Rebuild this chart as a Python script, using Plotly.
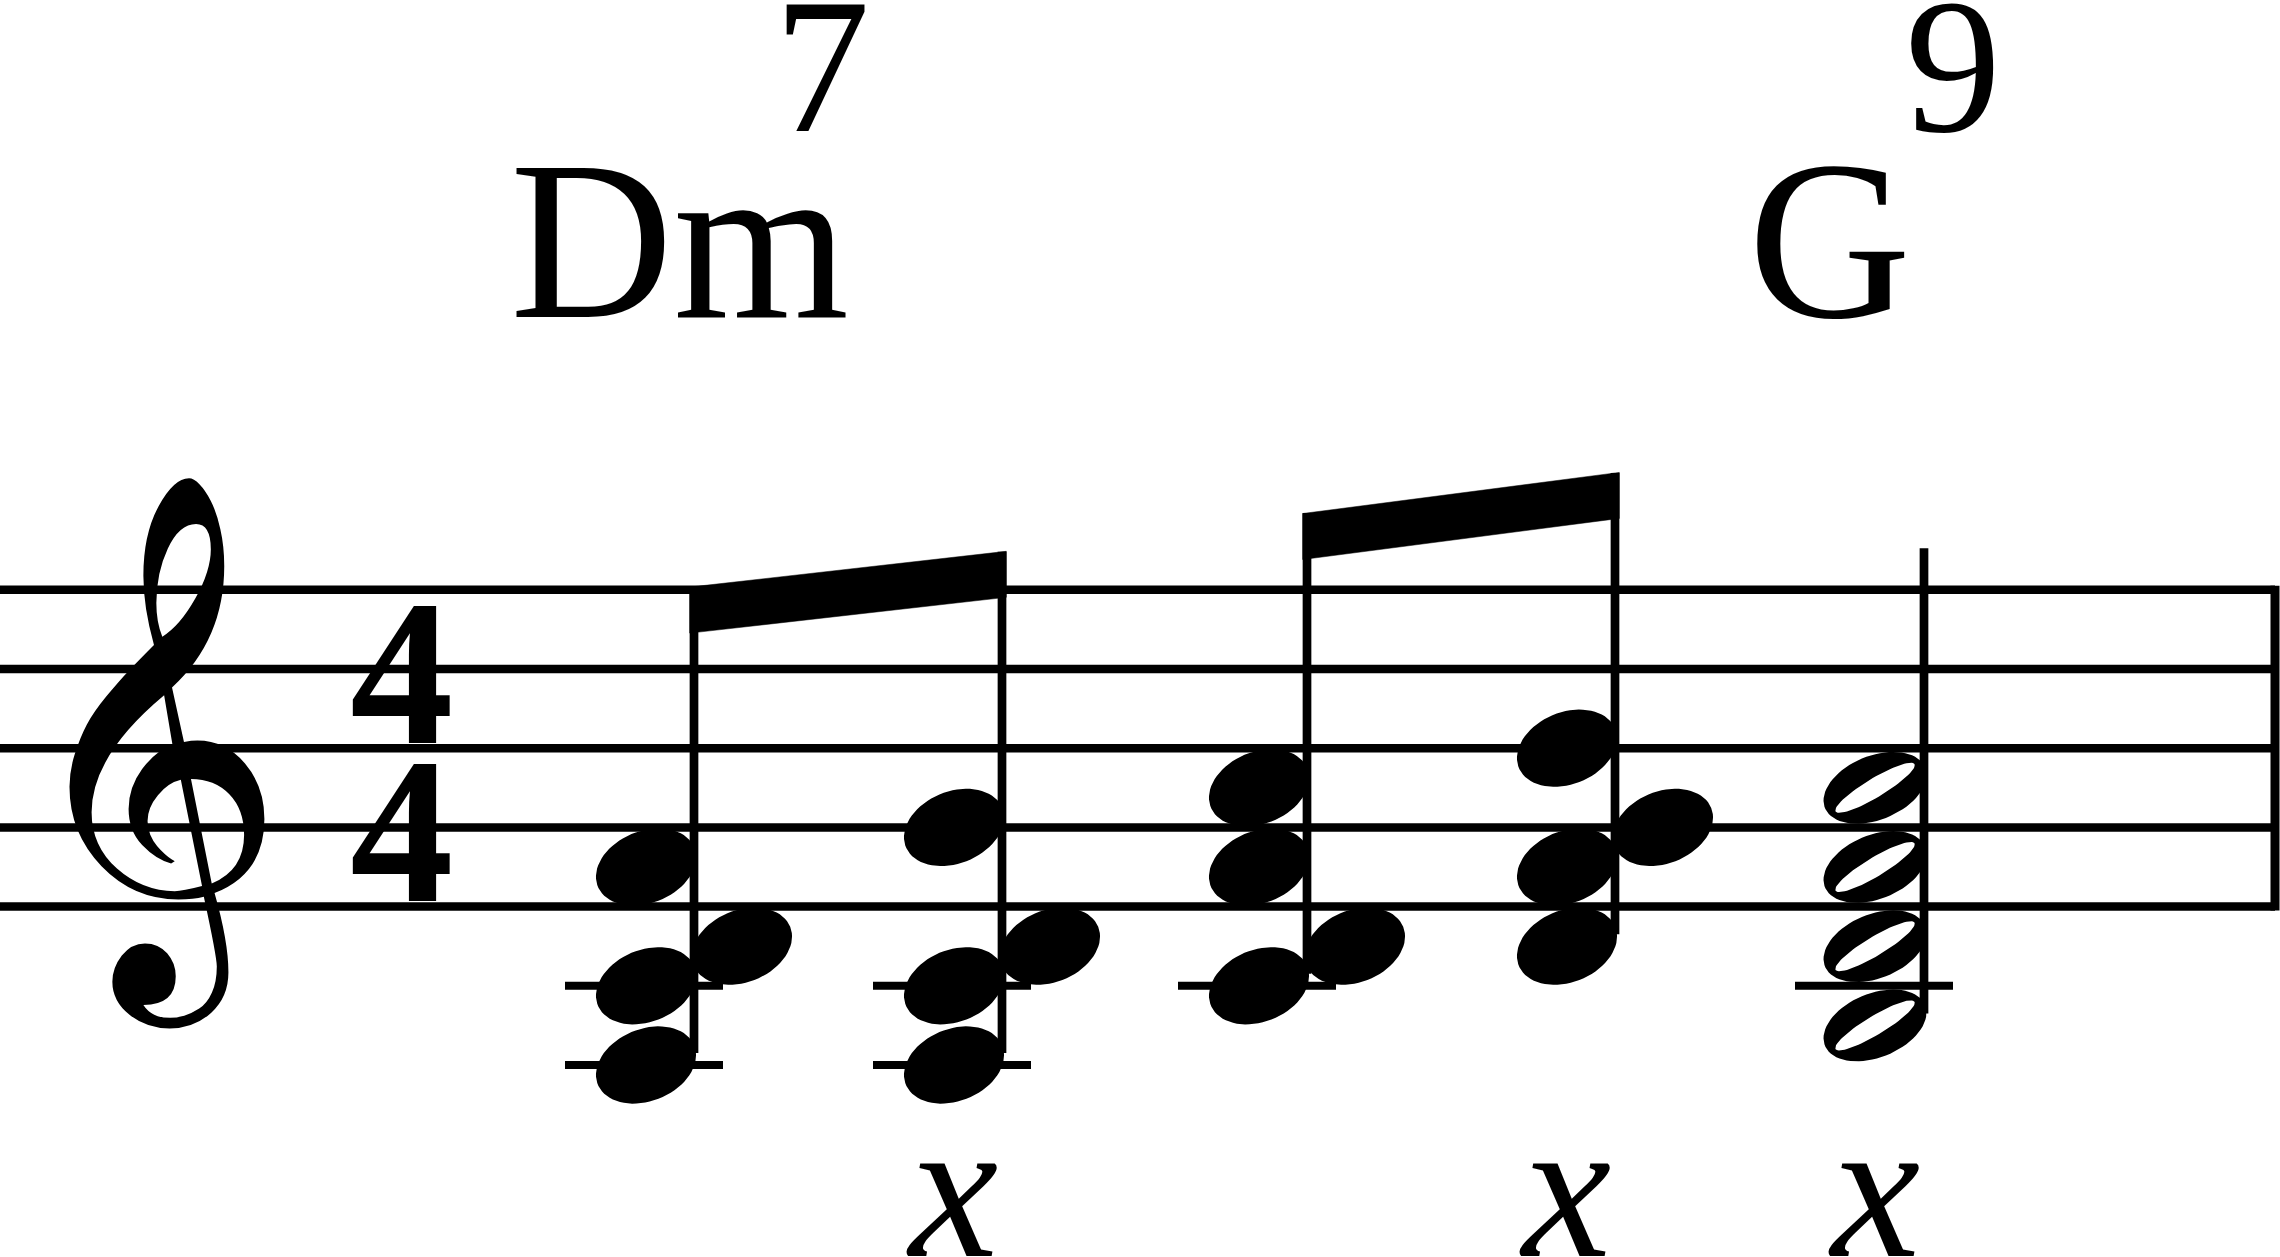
import numpy as np
import plotly.graph_objects as go

# page is 2280 x 1257 px, the axes map 1:1 onto it (y grows downward)
W, H = 2280, 1257
STAFF_BOTTOM = 906.6     # y of the lowest staff line (E4)
HALF_SPACE = 39.6        # one staff step
STAFF_END = 2275

# chords: staff steps above E4 (0 = bottom line, 8 = top line)
stem_x = [694, 1002, 1307, 1615, 1924]
chord_steps = [
    [-4, -2, -1, 1],    # A3 C4 D4 F4
    [-4, -2, -1, 2],    # A3 C4 D4 G4
    [-2, -1, 1, 3],     # C4 D4 F4 A4
    [-1, 1, 2, 4],      # D4 F4 G4 B4
    [-3, -1, 1, 3],     # B3 D4 F4 A4
]
durations = [8, 8, 8, 8, 2]
stem_tip = [8.08, 8.96, 9.94, 10.95, 9.05]
beam_groups = [(0, 1), (2, 3)]

chord_names = ["Dm", "G"]
chord_sups = ["7", "9"]
chord_at = [0, 4]
name_dx = [-186, -178]
sup_dx = [264, 157]

time_sig = ["4", "4"]
lyric = ["", "x", "", "x", "x"]


def sy(step):
    return STAFF_BOTTOM - step * HALF_SPACE


def ellipse(cx, cy, a, b, deg, n=72):
    t = np.linspace(0, 2 * np.pi, n)
    th = np.radians(deg)
    xs = cx + a * np.cos(t) * np.cos(th) - b * np.sin(t) * np.sin(th)
    ys = cy - (a * np.cos(t) * np.sin(th) + b * np.sin(t) * np.cos(th))
    return list(xs) + [None], list(ys) + [None]


def head_sides(steps):
    sides = []
    prev = None
    for s in sorted(steps):
        if prev is not None and s - prev[0] == 1 and prev[1] == "L":
            side = "R"
        else:
            side = "L"
        sides.append((s, side))
        prev = (s, side)
    return sides


fig = go.Figure()
black = "black"

# staff lines
lx, ly = [], []
for k in range(5):
    lx += [0, STAFF_END, None]
    ly += [sy(2 * k), sy(2 * k), None]
fig.add_trace(go.Scatter(x=lx, y=ly, mode="lines", line=dict(color=black, width=8.5)))
fig.add_trace(go.Scatter(x=[STAFF_END, STAFF_END], y=[sy(0) + 4, sy(8) - 4], mode="lines",
                         line=dict(color=black, width=9)))

# ledger lines
gx, gy = [], []
for sx, steps in zip(stem_x, chord_steps):
    low = min(steps)
    s = -2
    while s >= low:
        gx += [sx - 129, sx + 29, None]
        gy += [sy(s), sy(s), None]
        s -= 2
fig.add_trace(go.Scatter(x=gx, y=gy, mode="lines", line=dict(color=black, width=8)))

# stems
tx, ty = [], []
for sx, steps, tip in zip(stem_x, chord_steps, stem_tip):
    tx += [sx, sx, None]
    ty += [sy(min(steps)) - 12, sy(tip), None]
fig.add_trace(go.Scatter(x=tx, y=ty, mode="lines", line=dict(color=black, width=8.7)))

# beams
bx, by = [], []
for i, j in beam_groups:
    x0, x1 = stem_x[i] - 4.3, stem_x[j] + 4.3
    slope = (sy(stem_tip[j]) - sy(stem_tip[i])) / (stem_x[j] - stem_x[i])
    t0 = sy(stem_tip[i]) + slope * (x0 - stem_x[i])
    t1 = sy(stem_tip[i]) + slope * (x1 - stem_x[i])
    bx += [x0, x1, x1, x0, x0, None]
    by += [t0, t1, t1 + 46, t0 + 46, t0, None]
fig.add_trace(go.Scatter(x=bx, y=by, mode="lines", fill="toself", fillcolor=black,
                         line=dict(color=black, width=0.5)))

# noteheads
fx, fy, ox, oy, ix, iy = [], [], [], [], [], []
for sx, steps, dur in zip(stem_x, chord_steps, durations):
    for s, side in head_sides(steps):
        cx = sx - 48 if side == "L" else sx + 48
        if dur == 2:
            ex, ey = ellipse(cx - 1, sy(s), 54, 32, 22)
            ox += ex; oy += ey
            ex, ey = ellipse(cx - 1, sy(s), 46, 9.5, 31)
            ix += ex; iy += ey
        else:
            ex, ey = ellipse(cx, sy(s), 52, 36, 22)
            fx += ex; fy += ey
for xs, ys, col in [(fx, fy, black), (ox, oy, black), (ix, iy, "white")]:
    fig.add_trace(go.Scatter(x=xs, y=ys, mode="lines", fill="toself", fillcolor=col,
                             line=dict(color=col, width=0)))

serif = "Liberation Serif, Times New Roman, Times, serif"
ann = []
# clef
ann.append(dict(x=150, y=748, text="\U0001D11E", showarrow=False, xanchor="center", yanchor="middle",
                font=dict(family="DejaVu Sans", size=462, color=black)))
# time signature
for k, d in enumerate(time_sig):
    ann.append(dict(x=402, y=sy(6) + 4 if k == 0 else sy(2) + 4, text="<b>%s</b>" % d, showarrow=False,
                    xanchor="center", yanchor="middle", font=dict(family=serif, size=207, color=black)))
# chord names
for name, sup, idx, ndx, dx in zip(chord_names, chord_sups, chord_at, name_dx, sup_dx):
    x0 = stem_x[idx] + ndx
    ann.append(dict(x=x0, y=241, text=name, showarrow=False, xanchor="left", yanchor="middle",
                    font=dict(family=serif, size=226, color=black)))
    ann.append(dict(x=x0 + dx, y=66, text=sup, showarrow=False, xanchor="left", yanchor="middle",
                    font=dict(family=serif, size=192, color=black)))
# lyrics
for sx, word in zip(stem_x, lyric):
    if word:
        ann.append(dict(x=sx - 50, y=1188, text="<i>%s</i>" % word, showarrow=False,
                        xanchor="center", yanchor="middle", font=dict(family=serif, size=201, color=black)))

fig.update_layout(
    width=W, height=H, margin=dict(l=0, r=0, t=0, b=0),
    paper_bgcolor="white", plot_bgcolor="white", showlegend=False,
    xaxis=dict(range=[0, W], visible=False, fixedrange=True),
    yaxis=dict(range=[H, 0], visible=False, fixedrange=True),
    annotations=ann,
)
fig.write_html("out.html", config={"displayModeBar": False},
               post_script="document.body.style.margin='0';")
